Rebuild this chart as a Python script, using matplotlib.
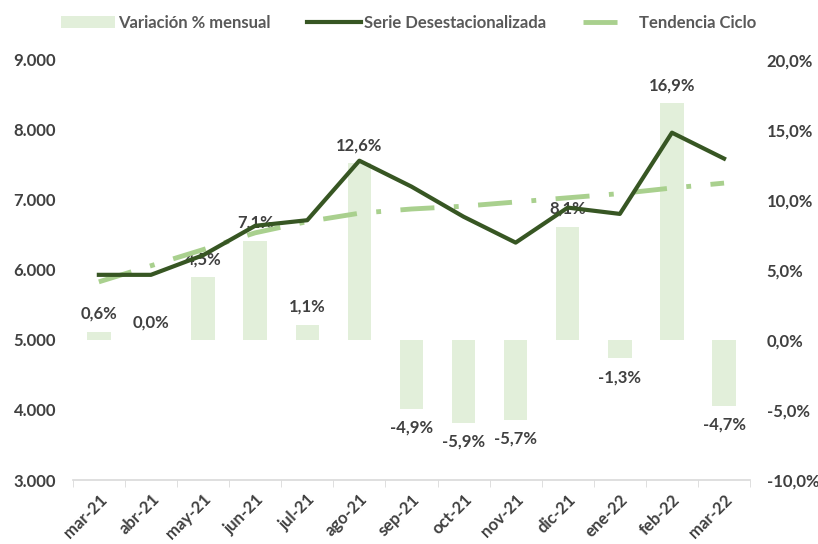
import matplotlib.pyplot as plt
import numpy as np

meses = ['mar-21', 'abr-21', 'may-21', 'jun-21', 'jul-21', 'ago-21', 'sep-21',
         'oct-21', 'nov-21', 'dic-21', 'ene-22', 'feb-22', 'mar-22']
variacion = [0.6, 0.0, 4.5, 7.1, 1.1, 12.6, -4.9, -5.9, -5.7, 8.1, -1.3, 16.9, -4.7]
serie_desest = [5930, 5930, 6210, 6630, 6710, 7560, 7190, 6760, 6390, 6890, 6800, 7960, 7590]
tendencia = [5830, 6060, 6290, 6530, 6690, 6810, 6870, 6910, 6970, 7030, 7090, 7170, 7240]

plt.rcParams['font.family'] = ['Lato', 'DejaVu Sans']
texto = '#404040'
fs = 12

fig = plt.figure(figsize=(8.18, 5.44), dpi=100)
ax = fig.add_axes([0.089, 0.1176, 0.828, 0.7724])
ax2 = ax.twinx()

x = np.arange(len(meses))

# Barras en eje secundario (%)
ax2.bar(x, variacion, width=0.45, color='#E2EFDA', zorder=1, label='Variación % mensual')
for xi, v in zip(x, variacion):
    etiqueta = f'{v:.1f}%'.replace('.', ',')
    if v >= 0:
        ax2.annotate(etiqueta, (xi, v), xytext=(0, 7), textcoords='offset points',
                     ha='center', va='bottom', fontsize=fs, fontweight='bold', color=texto)
    else:
        ax2.annotate(etiqueta, (xi, v), xytext=(0, -8), textcoords='offset points',
                     ha='center', va='top', fontsize=fs, fontweight='bold', color=texto)

# Lineas en eje principal
ax.plot(x, serie_desest, color='#375623', linewidth=3, zorder=3, label='Serie Desestacionalizada')
ax.plot(x, tendencia, color='#A9D08E', linewidth=3.5, dashes=(7, 4, 1, 4), zorder=2,
        label='Tendencia Ciclo')

ax.set_zorder(ax2.get_zorder() + 1)
ax.patch.set_visible(False)

ax.set_xlim(-0.5, 12.5)
ax.set_ylim(3000, 9000)
ax2.set_ylim(-10, 20)
ax.set_yticks(range(3000, 9001, 1000))
ax.set_yticklabels([f'{v:,}'.replace(',', '.') for v in range(3000, 9001, 1000)])
ax2.set_yticks(range(-10, 21, 5))
ax2.set_yticklabels([f'{v:.1f}%'.replace('.', ',') for v in range(-10, 21, 5)])

ax.set_xticks(x)
ax.set_xticklabels(meses, rotation=45, ha='right', rotation_mode='anchor')
ax.set_xticks(np.arange(-0.5, 13, 1), minor=True)
ax.tick_params(axis='x', which='major', length=0, pad=8)
ax.tick_params(axis='x', which='minor', length=5, color='#D9D9D9', direction='out')

for a in (ax, ax2):
    for s in ('top', 'left', 'right', 'bottom'):
        a.spines[s].set_visible(False)
    a.tick_params(axis='y', length=0, pad=12)
ax.spines['bottom'].set_visible(True)
ax.spines['bottom'].set_color('#D9D9D9')
ax.spines['bottom'].set_linewidth(1.2)

for lbl in ax.get_xticklabels() + ax.get_yticklabels() + ax2.get_yticklabels():
    lbl.set_fontweight('bold')
    lbl.set_color(texto)
    lbl.set_fontsize(fs)

h1, l1 = ax2.get_legend_handles_labels()
h2, l2 = ax.get_legend_handles_labels()
leg = fig.legend(h1 + h2, l1 + l2, loc='upper center', bbox_to_anchor=(0.5, 1.0), ncol=3,
                 frameon=False, fontsize=fs, handlelength=3.2, handletextpad=0.2, columnspacing=2.2)
for t in leg.get_texts():
    t.set_fontweight('bold')
    t.set_color('#595959')

fig.savefig('out.png', dpi=100)
